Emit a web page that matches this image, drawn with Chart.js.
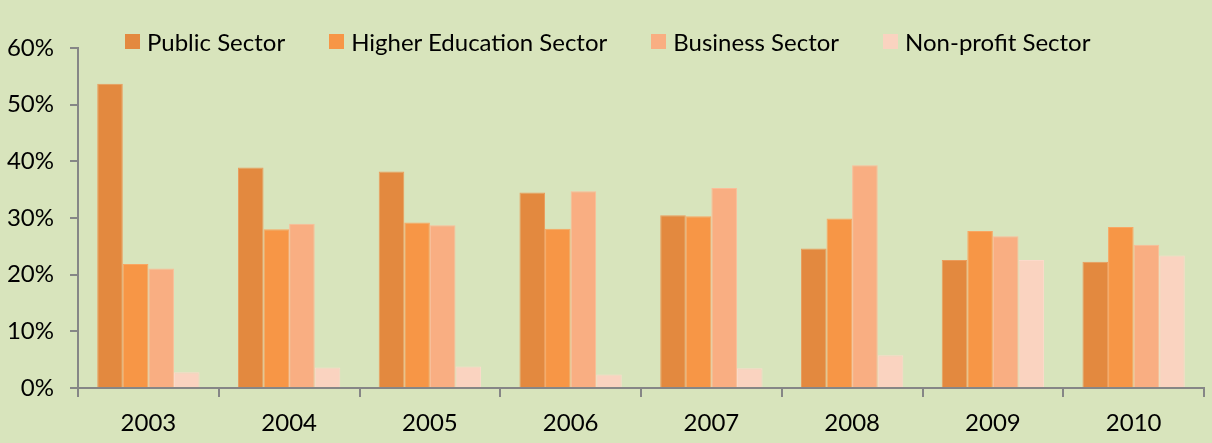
<!DOCTYPE html>
<html>
<head>
<meta charset="utf-8">
<script src="https://cdn.jsdelivr.net/npm/chart.js@4/dist/chart.umd.min.js"></script>
<style>
  html, body { margin: 0; padding: 0; background: #D8E4BC; }
  #wrap { position: relative; width: 1212px; height: 443px; }
  #legend { position: absolute; top: 29px; left: 125px; display: flex; font-family: Lato, sans-serif; font-size: 24px; color: #000; }
  #legend .item { display: flex; align-items: center; margin-right: 44px; height: 25px; }
  #legend .box { width: 15px; height: 15px; margin-right: 7px; }
</style>
</head>
<body>
<div id="wrap">
  <canvas id="grafico" width="1212" height="443"></canvas>
  <div id="legend"></div>
</div>
<script>
var years = ['2003', '2004', '2005', '2006', '2007', '2008', '2009', '2010'];
var seriesNames = ['Public Sector', 'Higher Education Sector', 'Business Sector', 'Non-profit Sector'];
var publicSector = [53.7, 38.9, 38.2, 34.5, 30.5, 24.6, 22.6, 22.3];
var higherEducation = [21.9, 28.0, 29.2, 28.1, 30.3, 29.9, 27.7, 28.4];
var businessSector = [21.1, 29.0, 28.7, 34.7, 35.3, 39.3, 26.8, 25.3];
var nonProfit = [2.8, 3.6, 3.8, 2.4, 3.5, 5.8, 22.6, 23.4];
var yTicks = [0, 10, 20, 30, 40, 50, 60];

var cores = ['rgb(227,137,63)', 'rgb(247,150,70)', 'rgb(249,174,130)', 'rgb(250,211,192)'];
var bordas = ['rgb(234,156,92)', 'rgb(249,166,98)', 'rgb(251,188,152)', 'rgb(251,218,202)'];
var valores = [publicSector, higherEducation, businessSector, nonProfit];

var ctx = document.getElementById('grafico').getContext('2d');

var data = {
    labels: years,
    datasets: seriesNames.map(function (nome, i) {
        return {
            label: nome,
            data: valores[i],
            backgroundColor: cores[i],
            borderColor: bordas[i],
            borderWidth: 1,
            barPercentage: 1,
            categoryPercentage: 0.727
        };
    })
};

var fonte = { family: 'Lato, sans-serif', size: 24 };

var options = {
    responsive: false,
    animation: false,
    layout: { padding: { top: 48, right: 8, left: 0, bottom: 0 } },
    scales: {
        x: {
            grid: { drawOnChartArea: false, tickLength: 9, color: '#868686', lineWidth: 2, offset: true },
            border: { color: '#868686', width: 2 },
            ticks: { color: '#000', font: fonte, padding: 12 },
            afterFit: function (scale) { scale.height = 55; }
        },
        y: {
            min: 0,
            max: 60,
            grid: { drawOnChartArea: false, tickLength: 8, color: '#868686', lineWidth: 2 },
            border: { color: '#868686', width: 2 },
            afterBuildTicks: function (scale) {
                scale.ticks = yTicks.map(function (v) { return { value: v }; });
            },
            ticks: {
                color: '#000',
                font: fonte,
                padding: 16,
                callback: function (v) { return v + '%'; }
            },
            afterFit: function (scale) { scale.width = 78; }
        }
    },
    plugins: {
        legend: { display: false },
        tooltip: { enabled: false }
    }
};

var grafico = new Chart(ctx, { type: 'bar', data: data, options: options });

// legenda em HTML para ficar por cima da area do grafico, como no original
var leg = document.getElementById('legend');
seriesNames.forEach(function (nome, i) {
    var item = document.createElement('div');
    item.className = 'item';
    var box = document.createElement('span');
    box.className = 'box';
    box.style.background = cores[i];
    var txt = document.createElement('span');
    txt.textContent = nome;
    item.appendChild(box);
    item.appendChild(txt);
    leg.appendChild(item);
});
</script>
</body>
</html>
